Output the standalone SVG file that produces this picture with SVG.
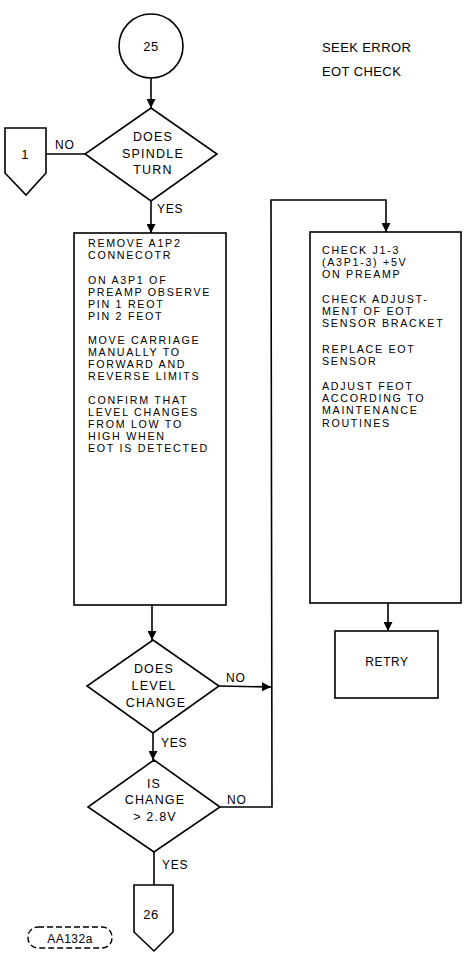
<svg xmlns="http://www.w3.org/2000/svg" width="466" height="961" viewBox="0 0 466 961">
<style>
.s{fill:none;stroke:#000;stroke-width:1.6}
.n{fill:#fff;stroke:#000;stroke-width:1.6}
text{font-family:"Liberation Sans",Arial,sans-serif;fill:#000}
.b{font-size:10.7px;letter-spacing:1.7px}
.d{font-size:12.5px;letter-spacing:1.2px;text-anchor:middle}
.l{font-size:12px;letter-spacing:0.8px}
.t{font-size:13px;letter-spacing:0.4px}
</style>
<defs>
<marker id="ah" viewBox="0 0 10 10" refX="10" refY="5" markerWidth="10" markerHeight="9" markerUnits="userSpaceOnUse" orient="auto">
<path d="M0,0 L10,5 L0,10 z" fill="#000"/>
</marker>
</defs>
<rect width="466" height="961" fill="#fff"/>
<g id="title">
<text class="t" x="322" y="52">SEEK ERROR</text>
<text class="t" x="322" y="76">EOT CHECK</text>
</g>
<g id="connectors">
<line class="s" x1="151" y1="78" x2="151" y2="108" marker-end="url(#ah)"/>
<line class="s" x1="46" y1="154" x2="85" y2="154"/>
<line class="s" x1="151" y1="201" x2="151" y2="233" marker-end="url(#ah)"/>
<line class="s" x1="152" y1="605" x2="152" y2="640" marker-end="url(#ah)"/>
<line class="s" x1="153" y1="733" x2="153" y2="760" marker-end="url(#ah)"/>
<line class="s" x1="154" y1="852" x2="154" y2="885"/>
<line class="s" x1="219" y1="686" x2="271" y2="687" marker-end="url(#ah)"/>
<polyline class="s" points="220,807 272,807 271,200 386,200 386,232" marker-end="url(#ah)"/>
<line class="s" x1="388" y1="603" x2="388" y2="631" marker-end="url(#ah)"/>
<text class="l" x="55" y="149">NO</text>
<text class="l" x="157" y="213">YES</text>
<text class="l" x="226" y="682">NO</text>
<text class="l" x="161" y="747">YES</text>
<text class="l" x="227" y="804">NO</text>
<text class="l" x="162" y="869">YES</text>
</g>
<g id="n25">
<circle class="n" cx="151" cy="46" r="32"/>
<text class="t" x="151" y="51" text-anchor="middle">25</text>
</g>
<g id="off1">
<polygon class="n" points="5,128 46,128 46,173 26,195 5,173"/>
<text class="t" x="25" y="159" text-anchor="middle">1</text>
</g>
<g id="d1">
<polygon class="n" points="151,108 217,154 151,201 85,154"/>
<text class="d" x="153" y="141">DOES</text>
<text class="d" x="153" y="158">SPINDLE</text>
<text class="d" x="153" y="174">TURN</text>
</g>
<g id="box1">
<rect class="n" x="74" y="233" width="152" height="372"/>
<text class="b" x="88" y="247">REMOVE A1P2</text>
<text class="b" x="88" y="259">CONNECOTR</text>
<text class="b" x="88" y="284">ON A3P1 OF</text>
<text class="b" x="88" y="296">PREAMP OBSERVE</text>
<text class="b" x="88" y="308">PIN 1 REOT</text>
<text class="b" x="88" y="320">PIN 2 FEOT</text>
<text class="b" x="88" y="344">MOVE CARRIAGE</text>
<text class="b" x="88" y="356">MANUALLY TO</text>
<text class="b" x="88" y="368">FORWARD AND</text>
<text class="b" x="88" y="380">REVERSE LIMITS</text>
<text class="b" x="88" y="404">CONFIRM THAT</text>
<text class="b" x="88" y="416">LEVEL CHANGES</text>
<text class="b" x="88" y="428">FROM LOW TO</text>
<text class="b" x="88" y="440">HIGH WHEN</text>
<text class="b" x="88" y="452">EOT IS DETECTED</text>
</g>
<g id="d2">
<polygon class="n" points="153,640 219,686 153,733 87,686"/>
<text class="d" x="154" y="673">DOES</text>
<text class="d" x="154" y="690">LEVEL</text>
<text class="d" x="156" y="707">CHANGE</text>
</g>
<g id="d3">
<polygon class="n" points="154,760 220,807 154,852 88,807"/>
<text class="d" x="154" y="788">IS</text>
<text class="d" x="155" y="804">CHANGE</text>
<text class="d" x="155" y="821">&gt; 2.8V</text>
</g>
<g id="off26">
<polygon class="n" points="134,885 173,885 173,932 154,951 134,932"/>
<text class="t" x="151" y="919" text-anchor="middle">26</text>
</g>
<g id="box2">
<rect class="n" x="310" y="232" width="151" height="371"/>
<text class="b" x="322" y="254">CHECK J1-3</text>
<text class="b" x="322" y="266">(A3P1-3) +5V</text>
<text class="b" x="322" y="278">ON PREAMP</text>
<text class="b" x="322" y="303">CHECK ADJUST-</text>
<text class="b" x="322" y="315">MENT OF EOT</text>
<text class="b" x="322" y="327">SENSOR BRACKET</text>
<text class="b" x="322" y="353">REPLACE EOT</text>
<text class="b" x="322" y="365">SENSOR</text>
<text class="b" x="322" y="390">ADJUST FEOT</text>
<text class="b" x="322" y="402">ACCORDING TO</text>
<text class="b" x="322" y="414">MAINTENANCE</text>
<text class="b" x="322" y="427">ROUTINES</text>
</g>
<g id="retry">
<rect class="n" x="335" y="631" width="103" height="67"/>
<text x="387" y="666" text-anchor="middle" style="font-size:12px;letter-spacing:0.6px">RETRY</text>
</g>
<g id="label">
<rect x="28" y="927" width="84" height="21" rx="10" fill="none" stroke="#000" stroke-width="1.4" stroke-dasharray="6,3"/>
<text x="70" y="943" text-anchor="middle" style="font-size:12px;letter-spacing:0.5px">AA132a</text>
</g>
</svg>
